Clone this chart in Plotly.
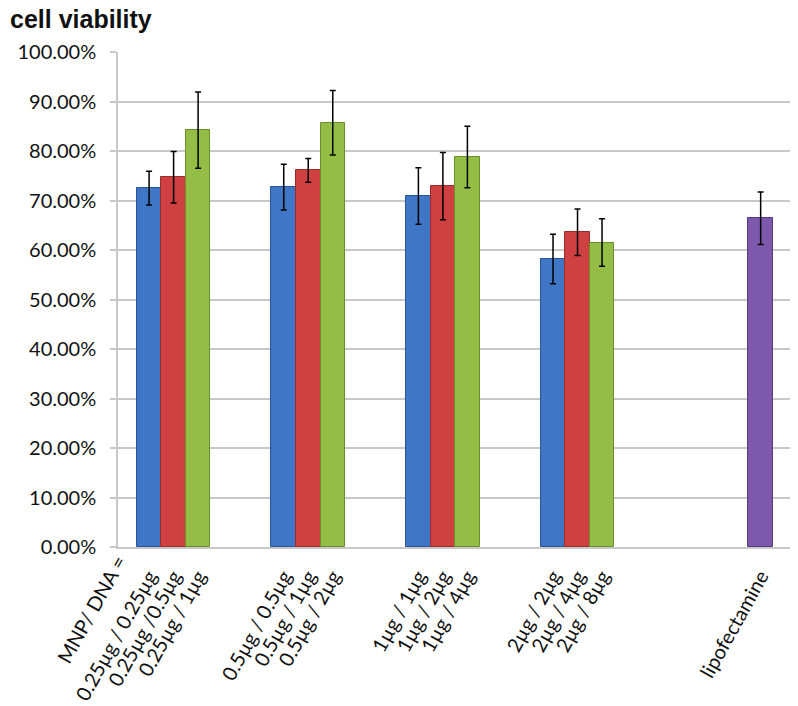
import plotly.graph_objects as go

# data (cell viability, %)
groups = ["0.25µg", "0.5µg", "1µg", "2µg"]
axis_prefix = "MNP/ DNA ="
labels_blue = ["0.25µg / 0.25µg", "0.5µg / 0.5µg", "1µg / 1µg", "2µg / 2µg"]
labels_red = ["0.25µg /0.5µg", "0.5µg / 1µg", "1µg / 2µg", "2µg / 4µg"]
labels_green = ["0.25µg / 1µg", "0.5µg / 2µg", "1µg / 4µg", "2µg / 8µg"]
blue_vals = [72.5, 72.7, 70.9, 58.2]
blue_err = [3.4, 4.6, 5.7, 5.0]
red_vals = [74.7, 76.1, 72.9, 63.6]
red_err = [5.2, 2.4, 6.8, 4.7]
green_vals = [84.2, 85.7, 78.8, 61.5]
green_err = [7.7, 6.5, 6.2, 4.8]
lipo_label = ["lipofectamine"]
lipo_vals = [66.4]
lipo_err = [5.3]

# layout of the category positions (group units)
BAR_W = 0.182
LIPO_POS = 4.36
centers = list(range(len(groups)))
x_blue = [c - BAR_W for c in centers]
x_red = [c for c in centers]
x_green = [c + BAR_W for c in centers]
x_lipo = [LIPO_POS]

FONT = "Lato"
ANGLE = -61

def bar(x, y, err, color, edge):
    return go.Bar(
        x=x, y=y, width=BAR_W,
        marker=dict(color=color, line=dict(color=edge, width=1)),
        error_y=dict(type="data", array=err, color="black", thickness=1.5, width=3),
        showlegend=False,
    )

fig = go.Figure()
fig.add_trace(bar(x_blue, blue_vals, blue_err, "#3f76c6", "#2a5596"))
fig.add_trace(bar(x_red, red_vals, red_err, "#cf4040", "#9a2c2c"))
fig.add_trace(bar(x_green, green_vals, green_err, "#93bd45", "#6a8e2c"))
fig.add_trace(bar(x_lipo, lipo_vals, lipo_err, "#7d58ad", "#553a80"))

tickvals = []
ticktext = []
for i in range(len(groups)):
    tickvals += [x_blue[i], x_red[i], x_green[i]]
    ticktext += [labels_blue[i], labels_red[i], labels_green[i]]
tickvals += x_lipo
ticktext += lipo_label

# "MNP/ DNA =" sits one line above the first tick label
fig.add_annotation(
    text=axis_prefix, textangle=ANGLE,
    x=x_blue[0] - 0.12, xref="x", y=0, yref="paper",
    xanchor="right", yanchor="top", yshift=-1, showarrow=False,
    font=dict(family=FONT, size=20, color="#111"),
)

# chart title, top left
fig.add_annotation(
    text="<b>cell viability</b>", x=0, xref="paper", y=1, yref="paper",
    xanchor="left", yanchor="middle", xshift=-110, yshift=33, showarrow=False,
    font=dict(family="Liberation Sans", size=25, color="#111"),
)

fig.update_layout(
    width=790, height=698,
    margin=dict(l=110, r=1, t=44, b=159),
    paper_bgcolor="white", plot_bgcolor="white",
    bargap=0,
    font=dict(family=FONT, color="#111"),
)
fig.update_xaxes(
    range=[-0.413, 4.63], automargin=False,
    tickmode="array", tickvals=tickvals, ticktext=ticktext,
    tickangle=ANGLE, tickfont=dict(family=FONT, size=20, color="#111"),
    showgrid=False, zeroline=False,
    showline=True, linecolor="#c8c8c8", linewidth=1.5,
    ticks="", ticklabelstandoff=8,
)
fig.update_yaxes(
    range=[0, 100], dtick=10, tickformat=".2f", ticksuffix="%", automargin=False,
    tickfont=dict(family=FONT, size=20, color="#111"),
    showgrid=True, gridcolor="#c8c8c8", gridwidth=1.5,
    zeroline=False, showline=True, linecolor="#c8c8c8", linewidth=1.5,
    ticks="outside", ticklen=6, tickcolor="#c8c8c8", tickwidth=1.5,
    ticklabelstandoff=10,
)

fig.write_html("out.html")
